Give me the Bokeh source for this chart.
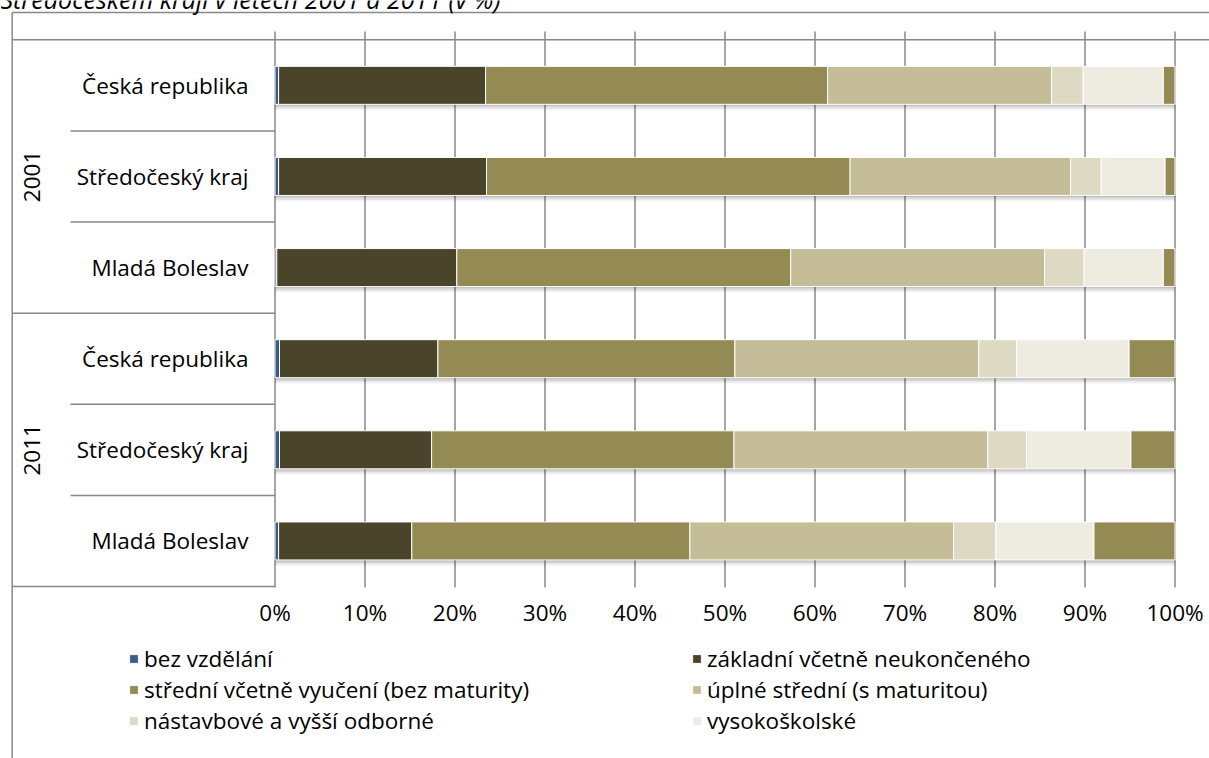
import math
from bokeh.plotting import figure
from bokeh.models import Range1d, ColumnDataSource, Legend, LegendItem
from bokeh.embed import file_html
from bokeh.resources import INLINE
from bokeh.core.properties import value

# ---------------- data ----------------
title_text = "Středočeském kraji v letech 2001 a 2011 (v %)"
years = ["2001", "2011"]
regions = ["Česká republika", "Středočeský kraj", "Mladá Boleslav"]
series_labels = [
    "bez vzdělání",
    "základní včetně neukončeného",
    "střední včetně vyučení (bez maturity)",
    "úplné střední (s maturitou)",
    "nástavbové a vyšší odborné",
    "vysokoškolské",
    "nezjištěno",
]
# rows: 2001 ČR, 2001 SK, 2001 MB, 2011 ČR, 2011 SK, 2011 MB
bez_vzdelani = [0.4, 0.4, 0.2, 0.5, 0.5, 0.4]
zakladni = [23.0, 23.1, 20.0, 17.6, 16.9, 14.8]
stredni = [38.0, 40.4, 37.1, 33.0, 33.6, 30.9]
uplne_stredni = [24.9, 24.5, 28.2, 27.1, 28.2, 29.3]
nastavbove = [3.5, 3.4, 4.4, 4.2, 4.3, 4.7]
vysokoskolske = [8.9, 7.1, 8.8, 12.5, 11.6, 10.9]
nezjisteno = [1.3, 1.1, 1.3, 5.1, 4.9, 9.0]
tick_values = [0, 10, 20, 30, 40, 50, 60, 70, 80, 90, 100]
tick_labels = ["0%", "10%", "20%", "30%", "40%", "50%", "60%", "70%", "80%", "90%", "100%"]

# ---------------- styles ----------------
colors = ["#385d8a", "#4a452a", "#948a54", "#c4bd97", "#ddd9c3", "#eeece1", "#948a54"]
FONT = "Open Sans"
FS = "22.5px"
LINE = "#888888"

W, H = 1209, 758
X0, PX = 274.5, 9.0        # screen x of 0 %, pixels per 1 %
YB, ROW = 586.0, 91.12     # screen y of bottom of categories, pixels per row
BAR_PX = 38.0


def dx(px):
    return (px - X0) / PX


def dy(py):
    return (YB - py) / ROW


p = figure(width=W, height=H, output_backend="svg", toolbar_location=None,
           x_axis_location=None, y_axis_location=None,
           x_range=Range1d(dx(0), dx(W)), y_range=Range1d(dy(H), dy(0)),
           min_border=0, outline_line_color=None,
           background_fill_color="white", border_fill_color="white")
p.grid.visible = False

n = len(years) * len(regions)
cat_labels = [r for y in years for r in regions]
ycent = [len(cat_labels) - i - 0.5 for i in range(n)]
keys = ["s0", "s1", "s2", "s3", "s4", "s5", "s6"]
series = [bez_vzdelani, zakladni, stredni, uplne_stredni, nastavbove, vysokoskolske, nezjisteno]
data = {"y": ycent}
for k, s in zip(keys, series):
    data[k] = s
src = ColumnDataSource(data)
totals = [sum(v) for v in zip(*series)]

# frame / table lines
p.segment(x0=[dx(11.7), dx(11.7)], y0=[dy(12), dy(12)], x1=[dx(W), dx(11.7)], y1=[dy(12), dy(H)],
          line_color=LINE, line_width=1.5)
# gridlines (incl. 0 % axis line)
p.segment(x0=tick_values, x1=tick_values, y0=[dy(587)] * len(tick_values), y1=[dy(31)] * len(tick_values),
          line_color=LINE, line_width=1.5)
# category table
gb = [len(cat_labels) - g * len(regions) for g in range(len(years) + 1)]   # group boundaries
p.segment(x0=[dx(11.7)] * len(gb), x1=[dx(W)] + [0] * (len(gb) - 1), y0=gb, y1=gb,
          line_color=LINE, line_width=1.5)
sb = [b for b in range(len(cat_labels)) if b not in gb]
p.segment(x0=[dx(70)] * len(sb), x1=[0] * len(sb), y0=sb, y1=sb, line_color=LINE, line_width=1.5)

# shadows
bh = BAR_PX / ROW
for off, a in [(1.5, 0.10), (3.0, 0.08), (4.5, 0.06), (6.0, 0.04)]:
    p.hbar(y=[c - off / ROW for c in ycent], left=[0] * n, right=totals, height=bh,
           fill_color="black", fill_alpha=a, line_color=None)

rs = p.hbar_stack(keys, y="y", height=bh, source=src, color=colors,
                  line_color="white", line_width=1)

# category labels
p.text(x=[dx(248)] * n, y=ycent, text=cat_labels, text_align="right", text_baseline="middle",
       text_font=value(FONT), text_font_size=FS, text_color="black")
gcent = [(gb[g] + gb[g + 1]) / 2 for g in range(len(years))]
p.text(x=[dx(31)] * len(years), y=gcent, text=years, angle=math.pi / 2, text_align="center",
       text_baseline="middle", text_font=value(FONT), text_font_size=FS, text_color="black")
# x tick labels
p.text(x=tick_values, y=[dy(612)] * len(tick_values), text=tick_labels, text_align="center",
       text_baseline="middle", text_font=value(FONT), text_font_size=FS, text_color="black")
# title (cut at the top as in the original)
p.text(x=[dx(0)], y=[dy(-2)], text=[title_text], text_align="left", text_baseline="alphabetic",
       text_font=value(FONT), text_font_size="25px", text_font_style="italic", text_color="black")

# legends
def make_legend(idx, x):
    items = [LegendItem(label=series_labels[i], renderers=[rs[i]]) for i in idx]
    leg = Legend(items=items, location=(x, 22), orientation="vertical",
                 glyph_width=11, glyph_height=11, label_standoff=5, spacing=-2,
                 padding=0, margin=0, border_line_color=None, background_fill_alpha=0,
                 label_text_font=FONT, label_text_font_size=FS, label_text_color="black")
    p.add_layout(leg, "center")


make_legend([0, 2, 4], 128)
make_legend([1, 3, 5], 691)

open("out.html", "w").write(file_html(p, INLINE))
